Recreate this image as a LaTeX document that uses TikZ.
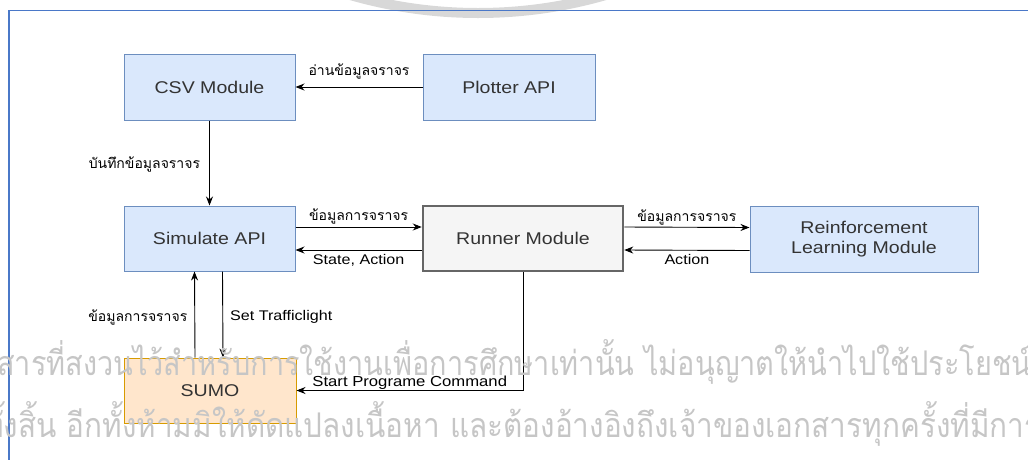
\documentclass[tikz,border=0pt]{standalone}
\usepackage{fontspec}
\usepackage{graphicx}
\setmainfont{Liberation Sans}[FakeStretch=1.15]
\newfontfamily\thai[Script=Thai]{Loma}
\usetikzlibrary{arrows.meta}

\definecolor{bluefill}{HTML}{DAE8FC}
\definecolor{blueline}{HTML}{6C8EBF}
\definecolor{greyfill}{HTML}{F5F5F5}
\definecolor{greyline}{HTML}{666666}
\definecolor{orangefill}{HTML}{FFE6CC}
\definecolor{orangeline}{HTML}{D79B00}
\definecolor{framecol}{HTML}{4A78C8}
\definecolor{markcol}{HTML}{C6C6C6}
\definecolor{ringcol}{HTML}{D8D8D8}

\begin{document}
\begin{tikzpicture}[x=1pt,y=-1pt,
  box/.style={draw=blueline,fill=bluefill,line width=1pt,inner sep=0pt,
    minimum width=171pt,minimum height=65pt,align=center,
    text=black!80,font=\fontsize{17}{20}\selectfont},
  runbox/.style={box,draw=greyline,fill=greyfill,line width=2.5pt},
  simbox/.style={box,draw=orangeline,fill=orangefill},
  arr/.style={-{Stealth[length=9pt,width=7pt]},line width=0.9pt},
  lab/.style={inner sep=1pt,font=\fontsize{14}{16}\selectfont},
  tlab/.style={inner sep=1pt,font=\thai\fontsize{14}{16}\selectfont},
  notice/.style={anchor=base west,inner sep=0pt,text=markcol,font=\thai\fontsize{34}{40}\selectfont}]

\useasboundingbox (0,0) rectangle (1028,459);

% ring of the emblem at the top edge
\begin{scope}
  \clip (0,0) rectangle (1028,459);
  \draw[ringcol,line width=10pt] (478,-446) circle[radius=459];
\end{scope}

% page frame
\draw[framecol,line width=1.6pt] (1030,10.5) -- (9,10.5) -- (9,461);

% modules
\node[box,minimum width=171pt,minimum height=66pt] (csv)  at (209.5,87)  {CSV Module};
\node[box,minimum width=172pt,minimum height=66pt] (plot) at (509,87)    {Plotter API};
\node[box] (sim) at (209.5,238.5) {Simulate API};
\node[runbox,minimum width=200pt] (run) at (523,238.5) {Runner Module};
\node[box,minimum width=228pt,minimum height=66pt] (rl) at (864,239)
  {Reinforcement\\Learning Module};
\node[simbox,minimum width=172pt] (sumo) at (210,390.5) {SUMO};

% connectors
\draw[arr] (plot.west) -- (csv.east)
  node[tlab,midway,above=6pt] {อ่านข้อมูลจราจร};
\draw[arr] (csv.south) -- (sim.north)
  node[tlab,pos=0.52,left=8pt] {บันทึกข้อมูลจราจร};

\draw[arr] ([yshift=11.5pt]sim.east) -- ([yshift=11.5pt]run.west)
  node[tlab,midway,above=1pt] {ข้อมูลการจราจร};
\draw[arr] ([yshift=-11.5pt]run.west) -- ([yshift=-11.5pt]sim.east)
  node[lab,midway,below=3pt] {State, Action};

\draw[arr] ([yshift=11.5pt]run.east) -- ([yshift=11.5pt]rl.west)
  node[tlab,midway,above=1pt] {ข้อมูลการจราจร};
\draw[arr] ([yshift=-11.5pt]rl.west) -- ([yshift=-11.5pt]run.east)
  node[lab,midway,below=3pt] {Action};

\draw[arr] ([xshift=-15pt]sumo.north) -- ([xshift=-15pt]sim.south)
  node[tlab,pos=0.47,left=6pt] {ข้อมูลการจราจร};
\draw[arr] ([xshift=13pt]sim.south) -- ([xshift=13pt]sumo.north)
  node[lab,pos=0.53,right=6pt] {Set Trafficlight};

\coordinate (bend) at (run.south |- sumo.east);
\draw[arr] (run.south) -- (bend) -- (sumo.east)
  node[lab,pos=0.5,above=0pt,font=\fontsize{14.5}{16}\selectfont] {Start Programe Command};

% notice printed across the sheet
\begin{scope}
  \clip (0,0) rectangle (1028,459);
  \node[notice] (wm1) at (-3,375)
    {\resizebox{1034pt}{\height}{สารที่สงวนไว้สำหรับการใช้งานเพื่อการศึกษาเท่านั้น ไม่อนุญาตให้นำไปใช้ประโยชน์}};
  \node[notice] (wm2) at (-16,437)
    {\resizebox{1056pt}{\height}{ทั้งสิ้น อีกทั้งห้ามมิให้ดัดแปลงเนื้อหา และต้องอ้างอิงถึงเจ้าของเอกสารทุกครั้งที่มีการ}};
\end{scope}

\end{tikzpicture}
\end{document}
